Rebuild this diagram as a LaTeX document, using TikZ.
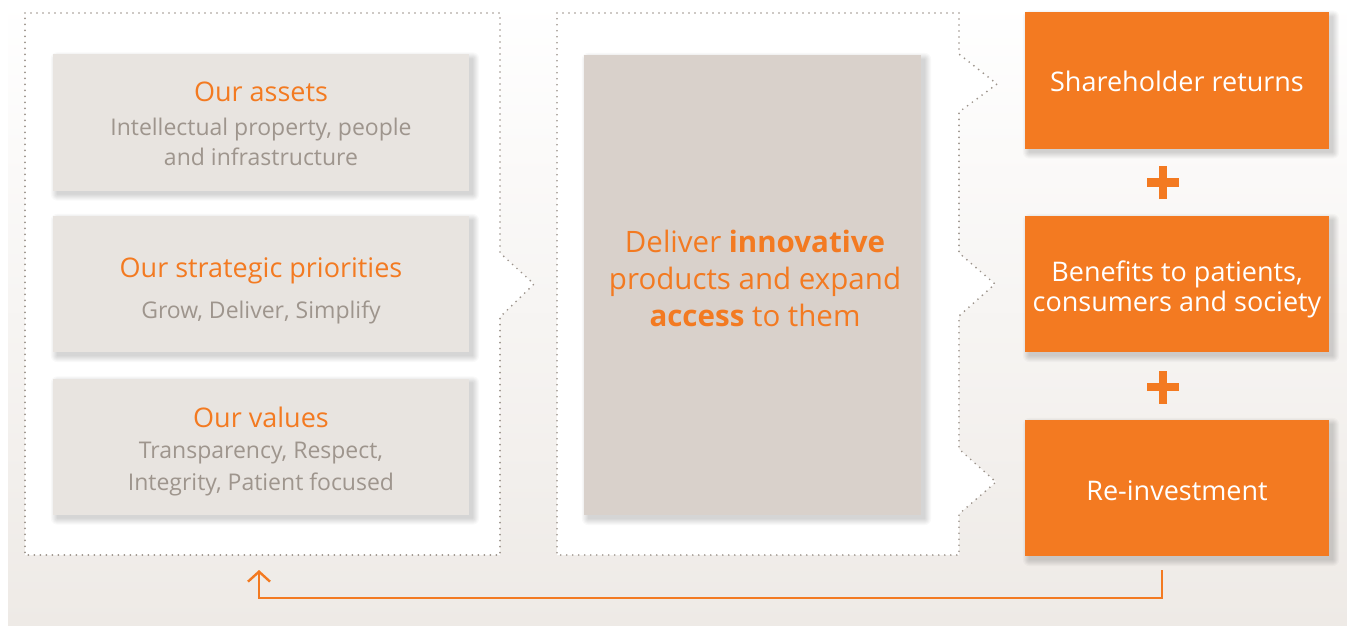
\documentclass[tikz,border=0pt]{standalone}
\usepackage{fontspec}
\setmainfont{Open Sans}
\usetikzlibrary{arrows.meta}
\definecolor{gsk}{HTML}{F37A21}
\definecolor{lightbox}{HTML}{E8E4E0}
\definecolor{midbox}{HTML}{D9D1CB}
\definecolor{graytext}{HTML}{9E958D}
\definecolor{dotcol}{HTML}{9C938B}
\definecolor{bgbottom}{HTML}{EEEAE6}
\pgfdeclarelayer{background}
\pgfdeclarelayer{shadowlayer}
\pgfsetlayers{background,shadowlayer,main}
\begin{document}
\begin{tikzpicture}[x=1pt,y=-1pt,
  frame/.style={draw=dotcol,fill=white,line width=1.9pt,line cap=round,dash pattern=on 0pt off 6pt},
  leftbox/.style={fill=lightbox,minimum width=416pt,minimum height=136pt,inner sep=0pt},
  centerbox/.style={fill=midbox,minimum width=337pt,minimum height=460pt,inner sep=0pt},
  orangebox/.style={fill=gsk,minimum width=304pt,minimum height=136pt,inner sep=0pt},
  head/.style={anchor=base,inner sep=0pt,text=gsk,font=\fontsize{27}{32}\selectfont},
  sub/.style={anchor=base,inner sep=0pt,text=graytext,font=\fontsize{23}{30}\selectfont},
  mid/.style={anchor=base,inner sep=0pt,text=gsk,font=\fontsize{29.5}{35}\selectfont},
  wht/.style={anchor=base,inner sep=0pt,text=white,font=\fontsize{27}{30}\selectfont},
  softshadow/.style={fill=black,opacity=0.022},
  plusbar/.style={draw=gsk,line width=8.5pt},
  loop/.style={draw=gsk,line width=2.4pt,-{Straight Barb[length=10pt,width=22pt]}}
]
\useasboundingbox (0,0) rectangle (1347,626);
\begin{pgfonlayer}{background}
\fill[white] (0,0) rectangle (1347,626);
\shade[top color=white,bottom color=bgbottom] (8,0) rectangle (1347,626);
% dotted frames
\path[frame] (25,13) -- (500,13) -- (500,253) -- (534,284) -- (500,317) -- (500,555) -- (25,555) -- cycle;
\path[frame] (557,13) -- (959,13) -- (959,54) -- (997,84) -- (959,112) -- (959,253) -- (995,284) -- (959,316)
  -- (959,449) -- (996,482) -- (959,514) -- (959,555) -- (557,555) -- cycle;
\end{pgfonlayer}

% left boxes
\node[leftbox] (assets) at (261,122.5) {};
\node[head] (assetsT) at (261,102) {Our assets};
\node[sub] (assetsS1) at (261,135) {Intellectual property, people};
\node[sub] (assetsS2) at (261,165) {and infrastructure};

\node[leftbox] (strategy) at (261,284) {};
\node[head] (strategyT) at (261,277) {Our strategic priorities};
\node[sub] (strategyS1) at (261,318) {Grow, Deliver, Simplify};

\node[leftbox] (values) at (261,446.5) {};
\node[head] (valuesT) at (261,427) {Our values};
\node[sub] (valuesS1) at (261,458) {Transparency, Respect,};
\node[sub] (valuesS2) at (261,490) {Integrity, Patient focused};

% centre box
\node[centerbox] (deliver) at (752.5,285) {};
\node[mid] (deliverA) at (755,252) {Deliver \textbf{innovative}};
\node[mid] (deliverB) at (755,289) {products and expand};
\node[mid] (deliverC) at (755,326) {\textbf{access} to them};

% orange boxes
\node[orangebox] (returns) at (1177,80.5) {};
\node[wht] (returnsT) at (1177,92) {Shareholder returns};
\node[orangebox] (benefits) at (1177,284) {};
\node[wht] (benefitsA) at (1177,281) {Benefits to patients,};
\node[wht] (benefitsB) at (1177,311) {consumers and society};
\node[orangebox] (reinvest) at (1177,488) {};
\node[wht] (reinvestT) at (1177,500) {Re-investment};

% soft shadows
\begin{pgfonlayer}{shadowlayer}
\foreach \b in {assets,strategy,values,deliver,returns,benefits,reinvest}{
  \foreach \r in {0,1,...,6}{
    \fill[softshadow,rounded corners={(\r+0.5)*1pt}]
      ([xshift={(4-\r)*1pt},yshift={(\r-4)*1pt}]\b.north west) rectangle
      ([xshift={(4+\r)*1pt},yshift={-(4+\r)*1pt}]\b.south east);
  }
}
\end{pgfonlayer}

% plus signs
\coordinate (plusA) at (1163,182.5);
\coordinate (plusB) at (1163,387);
\foreach \p in {plusA,plusB}{
  \draw[plusbar] ([xshift=-16pt]\p) -- ([xshift=16pt]\p);
  \draw[plusbar] ([yshift=-16.5pt]\p) -- ([yshift=16.5pt]\p);
}

% feedback loop arrow
\coordinate (loopstart) at (1162,570);
\coordinate (loopend) at (259,570);
\draw[loop] (loopstart) -- ++(0,28) -| (loopend);
\end{tikzpicture}
\end{document}
